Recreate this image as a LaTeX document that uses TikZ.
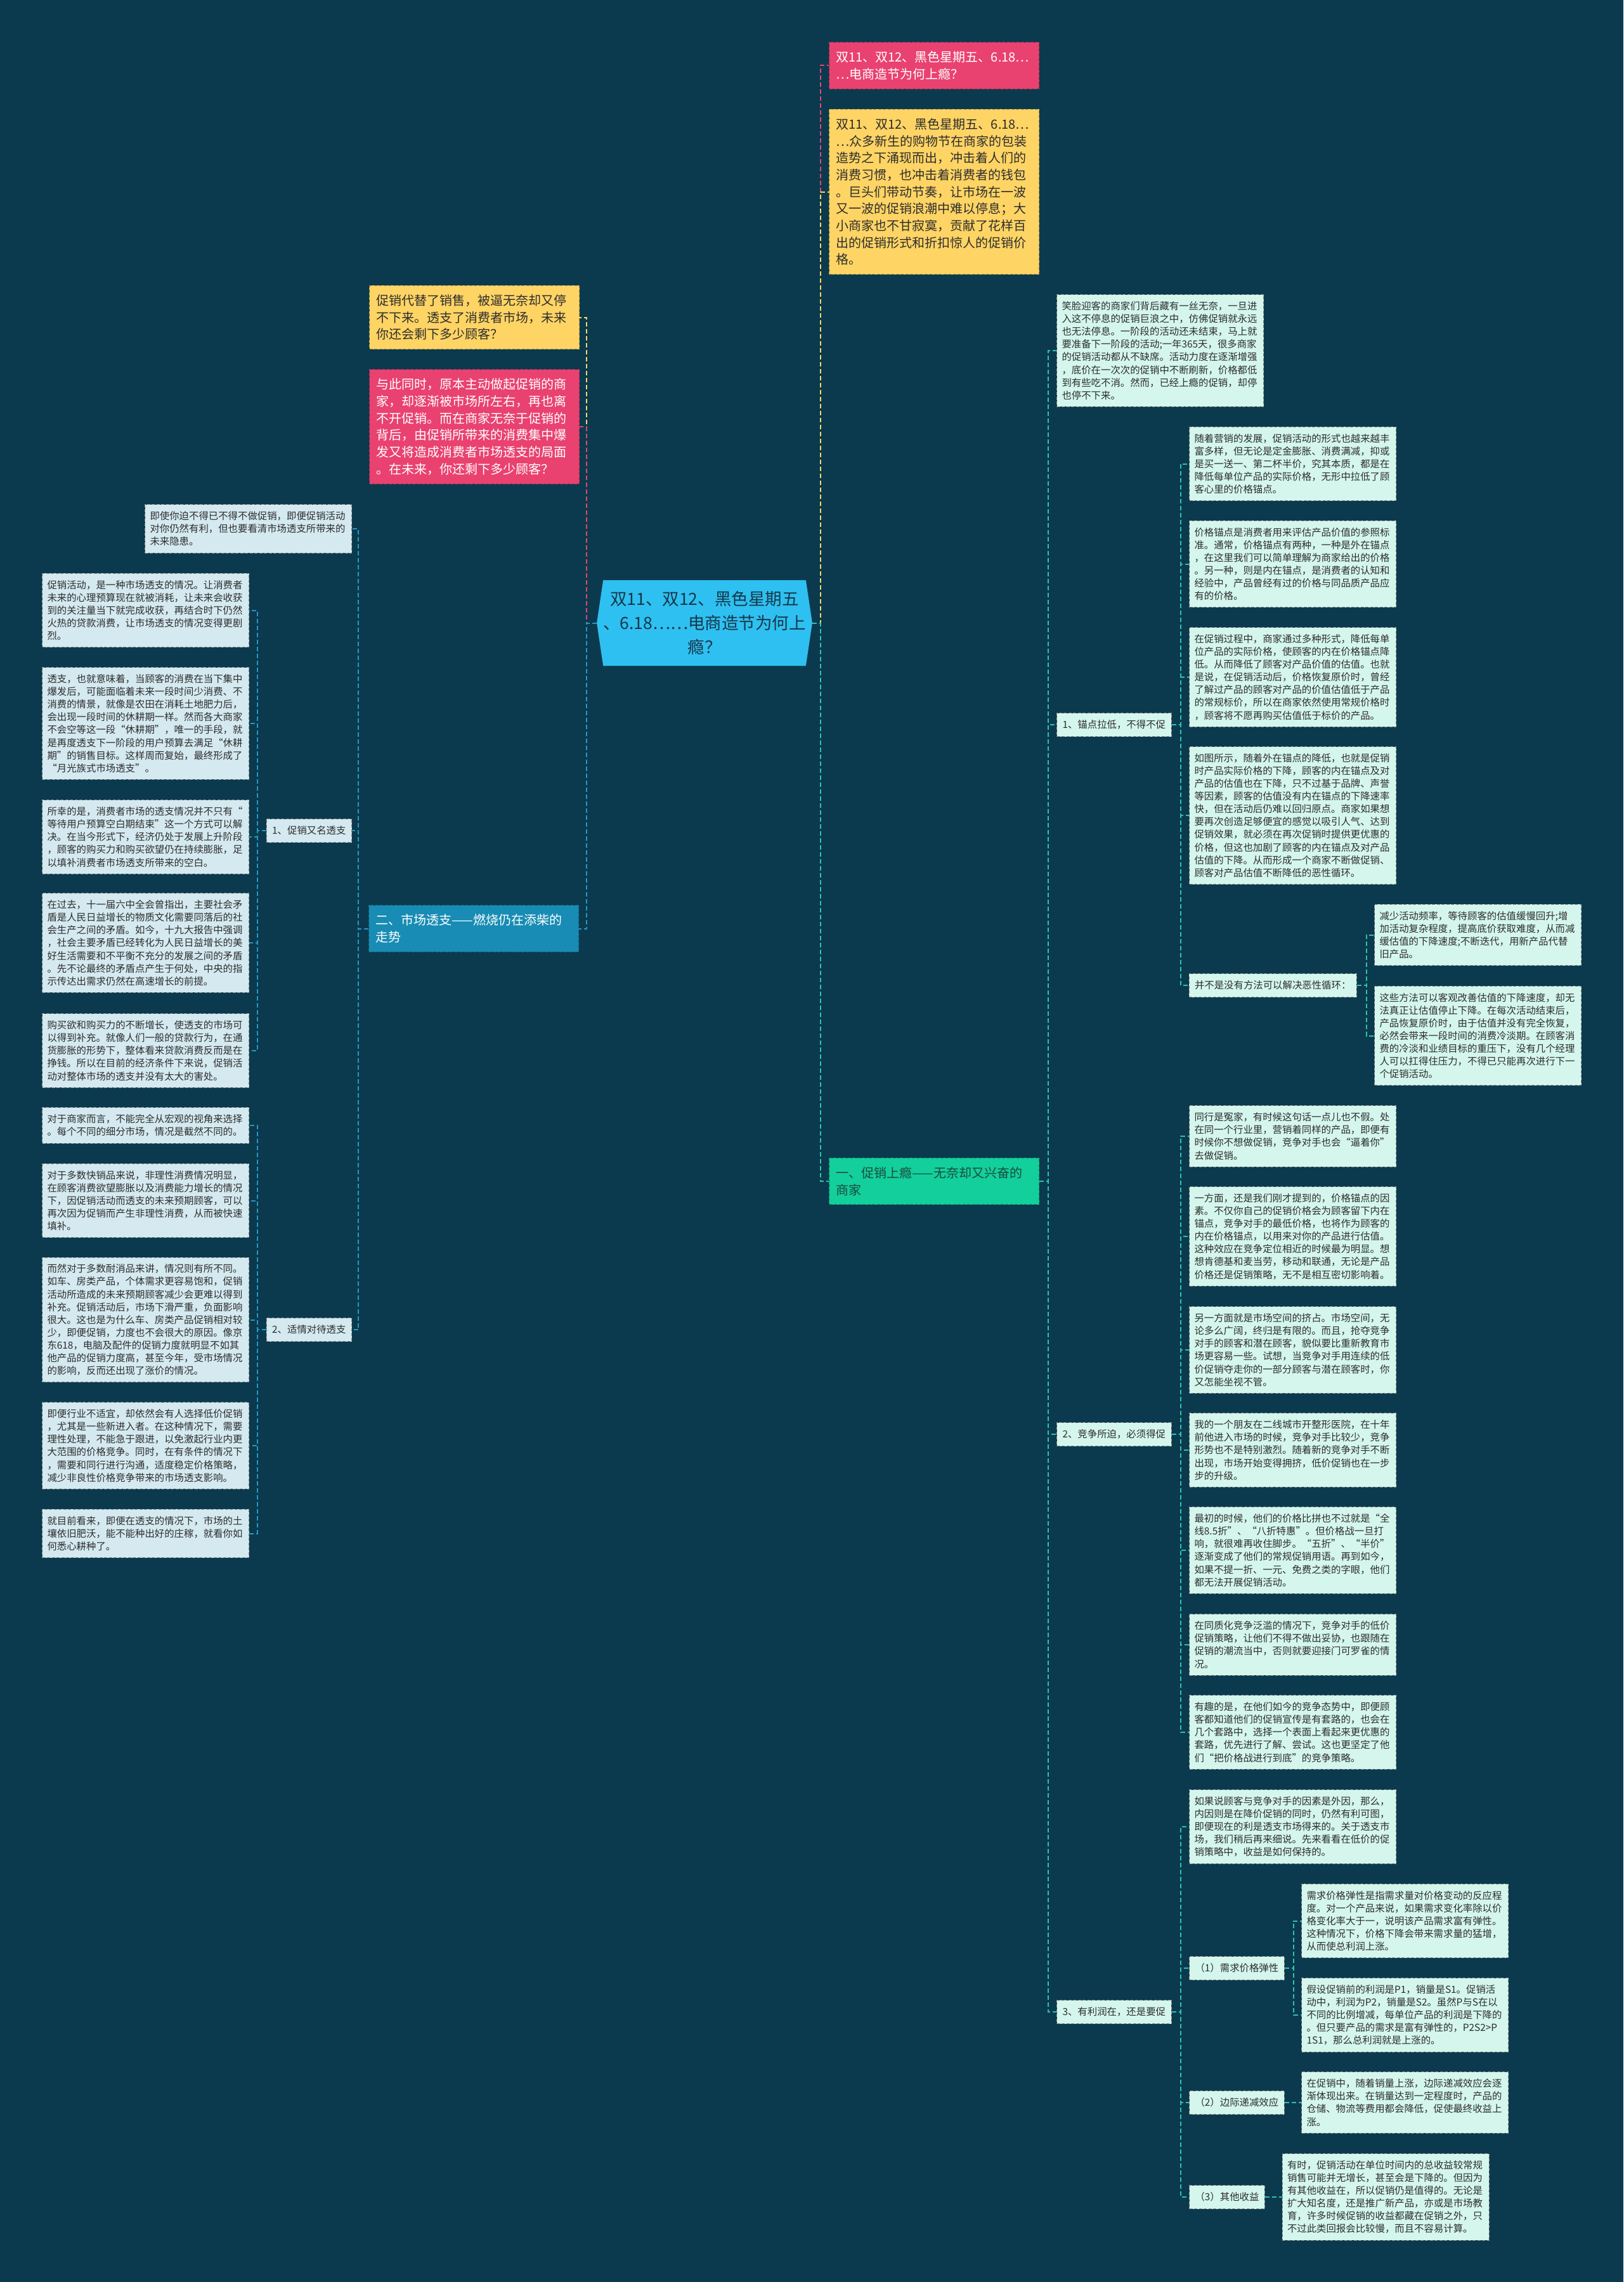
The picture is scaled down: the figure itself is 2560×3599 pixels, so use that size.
\documentclass[tikz,border=0pt]{standalone}
\usepackage{fontspec}
\setmainfont{Noto Sans CJK SC}
\usetikzlibrary{shapes.symbols}

\definecolor{bgdark}{RGB}{11,58,78}
\definecolor{mint}{RGB}{212,246,237}
\definecolor{iceblue}{RGB}{212,233,240}
\definecolor{rosered}{RGB}{233,66,112}
\definecolor{sunyellow}{RGB}{254,212,100}
\definecolor{leafgreen}{RGB}{18,207,155}
\definecolor{seablue}{RGB}{24,140,180}
\definecolor{skycyan}{RGB}{46,192,240}
\definecolor{tealline}{RGB}{45,195,170}
\definecolor{blueline}{RGB}{40,150,195}
\definecolor{inkdark}{RGB}{45,45,45}
\definecolor{hubink}{RGB}{22,55,75}
\definecolor{greenink}{RGB}{25,75,62}

\newcommand\txtS{\fontsize{15.4pt}{20.1pt}\selectfont}
\newcommand\txtM{\fontsize{20pt}{26.7pt}\selectfont}
\newcommand\txtL{\fontsize{26.5pt}{38pt}\selectfont}

\begin{document}
\begin{tikzpicture}[x=1pt,y=-1pt,
    conn/.style={dash pattern=on 7pt off 4pt,line width=2pt},
    box/.style={rectangle,draw=#1,dash pattern=on 5pt off 2.5pt,line width=1pt},
    leaf/.style={box=black!45,fill=mint,text=inkdark,font=\txtS,align=left,text width=310pt,inner xsep=8pt,inner ysep=2pt,anchor=west},
    leafL/.style={leaf,fill=iceblue,anchor=east},
    nl/.style={minimum height={20.1*#1+16}},
    tag/.style={box=black!45,fill=mint,text=inkdark,font=\txtS,inner xsep=9pt,inner ysep=2pt,minimum height=37pt,anchor=west},
    tagL/.style={tag,fill=iceblue,anchor=east},
    big/.style={box=#1!70!black,fill=#1,font=\txtM,align=left,text width=309pt,inner xsep=11pt,inner ysep=2pt},
    ml/.style={minimum height={26.7*#1+20}}]

    \useasboundingbox (0,0) rectangle (2560,3599) ;
    \fill[bgdark] (0,0) rectangle (2560,3599) ;

    \node[signal,signal to=west and east,signal pointer angle=163,fill=skycyan,text=hubink,font=\txtL,align=center,minimum width=338pt,minimum height=135pt,inner sep=0pt] (hub) at (1111,982.5) {双11、双12、黑色星期五\\、6.18……电商造节为何上\\瘾？} ;

    % right side
    \node[big=rosered,text=white,ml=2,anchor=west] (r_q) at (1307,103.5) {双11、双12、黑色星期五、6.18…\\…电商造节为何上瘾？} ;
    \node[big=sunyellow,text=inkdark,ml=9,anchor=west] (r_intro) at (1307,302.5) {双11、双12、黑色星期五、6.18…\\…众多新生的购物节在商家的包装\\造势之下涌现而出，冲击着人们的\\消费习惯，也冲击着消费者的钱包\\。巨头们带动节奏，让市场在一波\\又一波的促销浪潮中难以停息；大\\小商家也不甘寂寞，贡献了花样百\\出的促销形式和折扣惊人的促销价\\格。} ;
    \node[big=leafgreen,text=greenink,ml=2,anchor=west] (one) at (1307,1863) {一、促销上瘾——无奈却又兴奋的\\商家} ;

    \node[leaf,nl=8] (smile) at (1666,553) {笑脸迎客的商家们背后藏有一丝无奈，一旦进\\入这不停息的促销巨浪之中，仿佛促销就永远\\也无法停息。一阶段的活动还未结束，马上就\\要准备下一阶段的活动;一年365天，很多商家\\的促销活动都从不缺席。活动力度在逐渐增强\\，底价在一次次的促销中不断刷新，价格都低\\到有些吃不消。然而，已经上瘾的促销，却停\\也停不下来。} ;
    \node[tag] (t_anchor) at (1666,1143) {1、锚点拉低，不得不促} ;
    \node[leaf,nl=5] (c_promo) at (1875,731.5) {随着营销的发展，促销活动的形式也越来越丰\\富多样，但无论是定金膨胀、消费满减，抑或\\是买一送一、第二杯半价，究其本质，都是在\\降低每单位产品的实际价格，无形中拉低了顾\\客心里的价格锚点。} ;
    \node[leaf,nl=6] (c_ref) at (1875,889.6) {价格锚点是消费者用来评估产品价值的参照标\\准。通常，价格锚点有两种，一种是外在锚点\\，在这里我们可以简单理解为商家给出的价格\\。另一种，则是内在锚点，是消费者的认知和\\经验中，产品曾经有过的价格与同品质产品应\\有的价格。} ;
    \node[leaf,nl=7] (c_inner) at (1875,1068) {在促销过程中，商家通过多种形式，降低每单\\位产品的实际价格，使顾客的内在价格锚点降\\低。从而降低了顾客对产品价值的估值。也就\\是说，在促销活动后，价格恢复原价时，曾经\\了解过产品的顾客对产品的价值估值低于产品\\的常规标价，所以在商家依然使用常规价格时\\，顾客将不愿再购买估值低于标价的产品。} ;
    \node[leaf,nl=10] (c_figure) at (1875,1286) {如图所示，随着外在锚点的降低，也就是促销\\时产品实际价格的下降，顾客的内在锚点及对\\产品的估值也在下降，只不过基于品牌、声誉\\等因素，顾客的估值没有内在锚点的下降速率\\快，但在活动后仍难以回归原点。商家如果想\\要再次创造足够便宜的感觉以吸引人气、达到\\促销效果，就必须在再次促销时提供更优惠的\\价格，但这也加剧了顾客的内在锚点及对产品\\估值的下降。从而形成一个商家不断做促销、\\顾客对产品估值不断降低的恶性循环。} ;
    \node[tag] (t_loop) at (1874.5,1554) {并不是没有方法可以解决恶性循环：} ;
    \node[leaf,nl=4] (d_slow) at (2167,1474.5) {减少活动频率，等待顾客的估值缓慢回升;增\\加活动复杂程度，提高底价获取难度，从而减\\缓估值的下降速度;不断迭代，用新产品代替\\旧产品。} ;
    \node[leaf,nl=7] (d_limit) at (2167,1633.5) {这些方法可以客观改善估值的下降速度，却无\\法真正让估值停止下降。在每次活动结束后，\\产品恢复原价时，由于估值并没有完全恢复，\\必然会带来一段时间的消费冷淡期。在顾客消\\费的冷淡和业绩目标的重压下，没有几个经理\\人可以扛得住压力，不得已只能再次进行下一\\个促销活动。} ;

    \node[tag] (t_rival) at (1666,2262) {2、竞争所迫，必须得促} ;
    \node[leaf,nl=4] (e_peer) at (1875,1792) {同行是冤家，有时候这句话一点儿也不假。处\\在同一个行业里，营销着同样的产品，即便有\\时候你不想做促销，竞争对手也会“逼着你”\\去做促销。} ;
    \node[leaf,nl=7] (e_price) at (1875,1950) {一方面，还是我们刚才提到的，价格锚点的因\\素。不仅你自己的促销价格会为顾客留下内在\\锚点，竞争对手的最低价格，也将作为顾客的\\内在价格锚点，以用来对你的产品进行估值。\\这种效应在竞争定位相近的时候最为明显。想\\想肯德基和麦当劳，移动和联通，无论是产品\\价格还是促销策略，无不是相互密切影响着。} ;
    \node[leaf,nl=6] (e_space) at (1875,2129) {另一方面就是市场空间的挤占。市场空间，无\\论多么广阔，终归是有限的。而且，抢夺竞争\\对手的顾客和潜在顾客，貌似要比重新教育市\\场更容易一些。试想，当竞争对手用连续的低\\价促销夺走你的一部分顾客与潜在顾客时，你\\又怎能坐视不管。} ;
    \node[leaf,nl=5] (e_friend) at (1875,2287) {我的一个朋友在二线城市开整形医院，在十年\\前他进入市场的时候，竞争对手比较少，竞争\\形势也不是特别激烈。随着新的竞争对手不断\\出现，市场开始变得拥挤，低价促销也在一步\\步的升级。} ;
    \node[leaf,nl=6] (e_first) at (1875,2445) {最初的时候，他们的价格比拼也不过就是“全\\线8.5折”、“八折特惠”。但价格战一旦打\\响，就很难再收住脚步。“五折”、“半价”\\逐渐变成了他们的常规促销用语。再到如今，\\如果不提一折、一元、免费之类的字眼，他们\\都无法开展促销活动。} ;
    \node[leaf,nl=4] (e_same) at (1875,2594) {在同质化竞争泛滥的情况下，竞争对手的低价\\促销策略，让他们不得不做出妥协，也跟随在\\促销的潮流当中，否则就要迎接门可罗雀的情\\况。} ;
    \node[leaf,nl=5] (e_fun) at (1875,2732) {有趣的是，在他们如今的竞争态势中，即便顾\\客都知道他们的促销宣传是有套路的，也会在\\几个套路中，选择一个表面上看起来更优惠的\\套路，优先进行了解、尝试。这也更坚定了他\\们“把价格战进行到底”的竞争策略。} ;

    \node[tag] (t_profit) at (1666,3173) {3、有利润在，还是要促} ;
    \node[leaf,nl=5] (f_inner) at (1875,2881) {如果说顾客与竞争对手的因素是外因，那么，\\内因则是在降价促销的同时，仍然有利可图，\\即便现在的利是透支市场得来的。关于透支市\\场，我们稍后再来细说。先来看看在低价的促\\销策略中，收益是如何保持的。} ;
    \node[tag] (t_elastic) at (1875,3104) {（1）需求价格弹性} ;
    \node[tag] (t_margin) at (1875,3316) {（2）边际递减效应} ;
    \node[tag] (t_other) at (1875,3465) {（3）其他收益} ;
    \node[leaf,nl=5] (h_elastic) at (2052,3029.5) {需求价格弹性是指需求量对价格变动的反应程\\度。对一个产品来说，如果需求变化率除以价\\格变化率大于一，说明该产品需求富有弹性。\\这种情况下，价格下降会带来需求量的猛增，\\从而使总利润上涨。} ;
    \node[leaf,nl=5] (h_profit) at (2052,3178) {假设促销前的利润是P1，销量是S1。促销活\\动中，利润为P2，销量是S2。虽然P与S在以\\不同的比例增减，每单位产品的利润是下降的\\。但只要产品的需求是富有弹性的，P2S2>P\\1S1，那么总利润就是上涨的。} ;
    \node[leaf,nl=4] (h_margin) at (2052,3316) {在促销中，随着销量上涨，边际递减效应会逐\\渐体现出来。在销量达到一定程度时，产品的\\仓储、物流等费用都会降低，促使最终收益上\\涨。} ;
    \node[leaf,nl=6] (h_other) at (2021.5,3465) {有时，促销活动在单位时间内的总收益较常规\\销售可能并无增长，甚至会是下降的。但因为\\有其他收益在，所以促销仍是值得的。无论是\\扩大知名度，还是推广新产品，亦或是市场教\\育，许多时候促销的收益都藏在促销之外，只\\不过此类回报会比较慢，而且不容易计算。} ;

    % left side
    \node[big=sunyellow,text=inkdark,ml=3,anchor=east] (l_tired) at (914,500.5) {促销代替了销售，被逼无奈却又停\\不下来。透支了消费者市场，未来\\你还会剩下多少顾客？} ;
    \node[big=rosered,text=white,ml=6,anchor=east] (l_same) at (914,673) {与此同时，原本主动做起促销的商\\家，却逐渐被市场所左右，再也离\\不开促销。而在商家无奈于促销的\\背后，由促销所带来的消费集中爆\\发又将造成消费者市场透支的局面\\。在未来，你还剩下多少顾客？} ;
    \node[big=seablue,text=white,ml=2,anchor=east] (two) at (913,1464.5) {二、市场透支——燃烧仍在添柴的\\走势} ;

    \node[leafL,nl=3] (l_warn) at (555,834) {即使你迫不得已不得不做促销，即便促销活动\\对你仍然有利，但也要看清市场透支所带来的\\未来隐患。} ;
    \node[tagL] (t_over) at (555,1310) {1、促销又名透支} ;
    \node[tagL] (t_treat) at (555,2097) {2、适情对待透支} ;

    \node[leafL,nl=5] (b_act) at (393,962.5) {促销活动，是一种市场透支的情况。让消费者\\未来的心理预算现在就被消耗，让未来会收获\\到的关注量当下就完成收获，再结合时下仍然\\火热的贷款消费，让市场透支的情况变得更剧\\烈。} ;
    \node[leafL,nl=8] (b_fallow) at (393,1141) {透支，也就意味着，当顾客的消费在当下集中\\爆发后，可能面临着未来一段时间少消费、不\\消费的情景，就像是农田在消耗土地肥力后，\\会出现一段时间的休耕期一样。然而各大商家\\不会空等这一段“休耕期”，唯一的手段，就\\是再度透支下一阶段的用户预算去满足“休耕\\期”的销售目标。这样周而复始，最终形成了\\“月光族式市场透支”。} ;
    \node[leafL,nl=5] (b_luck) at (393,1320) {所幸的是，消费者市场的透支情况并不只有“\\等待用户预算空白期结束”这一个方式可以解\\决。在当今形式下，经济仍处于发展上升阶段\\，顾客的购买力和购买欲望仍在持续膨胀，足\\以填补消费者市场透支所带来的空白。} ;
    \node[leafL,nl=7] (b_past) at (393,1487) {在过去，十一届六中全会曾指出，主要社会矛\\盾是人民日益增长的物质文化需要同落后的社\\会生产之间的矛盾。如今，十九大报告中强调\\，社会主要矛盾已经转化为人民日益增长的美\\好生活需要和不平衡不充分的发展之间的矛盾\\。先不论最终的矛盾点产生于何处，中央的指\\示传达出需求仍然在高速增长的前提。} ;
    \node[leafL,nl=5] (b_grow) at (393,1657) {购买欲和购买力的不断增长，使透支的市场可\\以得到补充。就像人们一般的贷款行为，在通\\货膨胀的形势下，整体看来贷款消费反而是在\\挣钱。所以在目前的经济条件下来说，促销活\\动对整体市场的透支并没有太大的害处。} ;
    \node[leafL,nl=2] (b_shop) at (393,1775) {对于商家而言，不能完全从宏观的视角来选择\\。每个不同的细分市场，情况是截然不同的。} ;
    \node[leafL,nl=5] (b_fast) at (393,1893.5) {对于多数快销品来说，非理性消费情况明显，\\在顾客消费欲望膨胀以及消费能力增长的情况\\下，因促销活动而透支的未来预期顾客，可以\\再次因为促销而产生非理性消费，从而被快速\\填补。} ;
    \node[leafL,nl=9] (b_durable) at (393,2081.5) {而然对于多数耐消品来讲，情况则有所不同。\\如车、房类产品，个体需求更容易饱和，促销\\活动所造成的未来预期顾客减少会更难以得到\\补充。促销活动后，市场下滑严重，负面影响\\很大。这也是为什么车、房类产品促销相对较\\少，即便促销，力度也不会很大的原因。像京\\东618，电脑及配件的促销力度就明显不如其\\他产品的促销力度高，甚至今年，受市场情况\\的影响，反而还出现了涨价的情况。} ;
    \node[leafL,nl=6] (b_calm) at (393,2280) {即便行业不适宜，却依然会有人选择低价促销\\，尤其是一些新进入者。在这种情况下，需要\\理性处理，不能急于跟进，以免激起行业内更\\大范围的价格竞争。同时，在有条件的情况下\\，需要和同行进行沟通，适度稳定价格策略，\\减少非良性价格竞争带来的市场透支影响。} ;
    \node[leafL,nl=3] (b_soil) at (393,2418.5) {就目前看来，即便在透支的情况下，市场的土\\壤依旧肥沃，能不能种出好的庄稼，就看你如\\何悉心耕种了。} ;

    % connectors
    \draw[conn,rosered] (hub.east) -- ++(13,0) |- (r_q.west) ;
    \draw[conn,sunyellow] (hub.east) -- ++(13,0) |- (r_intro.west) ;
    \draw[conn,tealline] (hub.east) -- ++(13,0) |- (one.west) ;
    \draw[conn,sunyellow] (hub.west) -- ++(-16,0) |- (l_tired.east) ;
    \draw[conn,rosered] (hub.west) -- ++(-16,0) |- (l_same.east) ;
    \draw[conn,blueline] (hub.west) -- ++(-16,0) |- (two.east) ;

    \foreach \n in {smile,t_anchor,t_rival,t_profit}
        \draw[conn,tealline] (one.east) -- ++(14,0) |- (\n.west) ;
    \foreach \n in {c_promo,c_ref,c_inner,c_figure,t_loop}
        \draw[conn,tealline] (t_anchor.east) -- ++(14,0) |- (\n.west) ;
    \foreach \n in {d_slow,d_limit}
        \draw[conn,tealline] (t_loop.east) -- ++(15,0) |- (\n.west) ;
    \foreach \n in {e_peer,e_price,e_space,e_friend,e_first,e_same,e_fun}
        \draw[conn,tealline] (t_rival.east) -- ++(14,0) |- (\n.west) ;
    \foreach \n in {f_inner,t_elastic,t_margin,t_other}
        \draw[conn,tealline] (t_profit.east) -- ++(14,0) |- (\n.west) ;
    \foreach \n in {h_elastic,h_profit}
        \draw[conn,tealline] (t_elastic.east) -- ++(14,0) |- (\n.west) ;
    \draw[conn,tealline] (t_margin) -- (h_margin) ;
    \draw[conn,tealline] (t_other) -- (h_other) ;

    \foreach \n in {l_warn,t_over,t_treat}
        \draw[conn,blueline] (two.west) -- ++(-16,0) |- (\n.east) ;
    \foreach \n in {b_act,b_fallow,b_luck,b_past,b_grow}
        \draw[conn,blueline] (t_over.west) -- ++(-14,0) |- (\n.east) ;
    \foreach \n in {b_shop,b_fast,b_durable,b_calm,b_soil}
        \draw[conn,blueline] (t_treat.west) -- ++(-14,0) |- (\n.east) ;
\end{tikzpicture}
\end{document}
